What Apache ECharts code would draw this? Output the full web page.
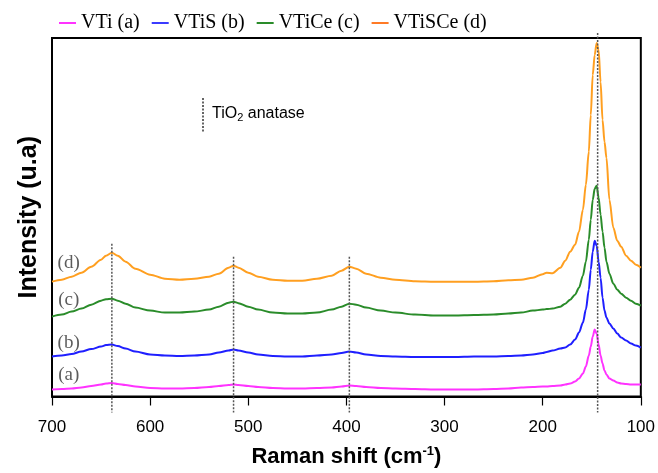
<!DOCTYPE html>
<html>
<head>
<meta charset="utf-8">
<script src="https://cdn.jsdelivr.net/npm/echarts@6/dist/echarts.min.js"></script>
<style>
  html, body { margin: 0; padding: 0; background: #fff; }
  #chart { width: 658px; height: 473px; }
</style>
</head>
<body>
<div id="chart"></div>
<script>
// Raman shift sampling points (cm-1)
const ramanShift = [700, 690, 680, 670, 660, 650, 645, 639, 633, 625, 615, 600, 585, 570, 555, 540, 530, 520, 515, 510,
  500, 490, 475, 460, 445, 430, 415, 405, 397, 390, 380, 365, 350, 330, 310, 290, 270, 250, 235, 222,
  210, 200, 196, 190, 182, 177, 172, 167, 163, 159, 156, 153, 151, 149, 147, 145, 143, 141, 139, 137,
  135, 132, 128, 124, 120, 115, 110, 105, 100];

// Intensities (arbitrary units, spectra stacked with offsets)
const intensityVTi = [7, 7.5, 8, 9, 10.5, 12, 13, 13.5, 12.5, 11.5, 10, 8.5, 8, 8, 8.5, 9.5, 10.5, 11.5, 12, 11.5,
  10.5, 9.5, 8.5, 8, 8, 8.5, 9, 10, 11, 10.5, 9.5, 8.5, 8, 7.5, 7, 7, 7, 7.5, 8, 9,
  9.5, 10, 10, 10.5, 11, 12, 13, 15, 18, 23, 30, 41, 50, 60, 67, 63, 52, 41, 33, 26,
  22, 18, 16, 14, 13, 12.5, 12, 12, 12];
const intensityVTiS = [40, 41, 42.5, 45, 47.5, 50, 51.5, 52, 50.5, 48, 45, 42, 41, 40.5, 41, 42, 44, 46, 47, 46,
  44, 42, 40.5, 40, 40, 41, 42, 43.5, 45, 44, 42, 40.5, 40, 39.5, 39.5, 39.5, 40, 40, 40.5, 41,
  42, 43.5, 44.5, 46, 48, 49, 52, 57, 64, 74, 87, 107, 127, 145, 156, 151, 135, 119, 99, 86,
  79, 73, 68, 63, 59, 56, 53, 51, 49];
const intensityVTiCe = [80, 82, 85, 88, 92, 96, 97.5, 98, 96, 93, 89, 86, 84, 84, 85, 87, 90, 94, 95, 93.5,
  90, 87, 84, 83, 83, 84, 87, 90, 93, 92, 89, 86, 84, 82, 81, 81, 81.5, 82, 83, 84,
  86, 87, 87.5, 88, 90, 93, 97, 102, 109, 121, 135, 157, 177, 197, 208, 211, 199, 182, 165, 149,
  135, 123, 113, 107, 103, 99, 96, 93, 91];
const intensityVTiSCe = [115, 117, 120, 124, 130, 137, 141, 144, 141, 135, 128, 122, 118, 117, 118, 120, 123, 129, 131, 129,
  124, 120, 117, 116, 116, 118, 121, 126, 130, 128, 123, 119, 117, 115.5, 115, 115, 115, 115.5, 116.5, 117,
  119, 122.5, 124, 123.5, 129, 136, 145, 152, 165, 187, 212, 245, 282, 322, 342, 354, 347, 315, 277, 255,
  239, 197, 169, 156, 150, 141, 136, 132, 129];

const seriesNames = ['VTi (a)', 'VTiS (b)', 'VTiCe (c)', 'VTiSCe (d)'];
const seriesTags = ['(a)', '(b)', '(c)', '(d)'];
const seriesColors = ['#ff33ff', '#1f1fff', '#2a8c2a', '#ff9f20'];
const legendColors = ['#ff33ff', '#3b3bff', '#2a8c2a', '#ff7a26'];
const seriesValues = [intensityVTi, intensityVTiS, intensityVTiCe, intensityVTiSCe];
// tag label positions: [shift, intensity]
const tagPositions = [[683, 22], [683, 54], [683, 97], [683, 134]];

// anatase reference bands and the height where each guide starts
const anataseBands = [639, 515, 397, 144];
const guideTops = [153, 140, 140, 364];

const xTicks = [700, 600, 500, 400, 300, 200, 100];

const chart = echarts.init(document.getElementById('chart'));

const lineSeries = seriesNames.map((name, k) => ({
  name: name,
  type: 'line',
  data: ramanShift.map((x, i) => [x, seriesValues[k][i]]),
  showSymbol: false,
  smooth: 0.3,
  smoothMonotone: 'x',
  lineStyle: { color: seriesColors[k], width: 2 },
  itemStyle: { color: seriesColors[k] },
  z: 3
}));

// sample tags (a)-(d) placed beside each spectrum
const tagSeries = {
  type: 'scatter',
  silent: true,
  symbol: 'circle',
  symbolSize: 1,
  itemStyle: { color: 'rgba(0,0,0,0)' },
  z: 5,
  data: tagPositions.map((p, k) => ({ value: p, name: seriesTags[k] })),
  label: {
    show: true,
    position: 'inside',
    formatter: p => p.name,
    fontFamily: 'Liberation Serif',
    fontSize: 19,
    color: '#333'
  }
};

const guideSeries = {
  type: 'custom',
  clip: false,
  silent: true,
  z: 4,
  data: anataseBands.map((b, i) => [b, guideTops[i]]),
  renderItem: function (params, api) {
    const top = api.coord([api.value(0), api.value(1)]);
    const base = api.coord([api.value(0), 0]);
    return {
      type: 'line',
      shape: { x1: top[0], y1: top[1], x2: base[0], y2: base[1] + 16 },
      style: { stroke: '#555', lineWidth: 1.5, lineDash: [2, 1.5] }
    };
  }
};

const option = {
  animation: false,
  backgroundColor: '#fff',
  grid: {
    left: 52, right: 17, top: 38, bottom: 76,
    show: true, borderColor: '#000', borderWidth: 2
  },
  legend: {
    left: 54, top: 8,
    itemWidth: 17, itemHeight: 2, itemGap: 12,
    icon: 'rect',
    textStyle: { fontFamily: 'Liberation Serif', fontSize: 20, color: '#000' },
    data: seriesNames.map((n, k) => ({ name: n, itemStyle: { color: legendColors[k] } }))
  },
  xAxis: {
    type: 'value',
    inverse: true,
    min: 100, max: 700, interval: 100,
    name: '{a|Raman shift (cm}{s|-1}{a|)}',
    nameLocation: 'middle',
    nameGap: 48,
    nameTextStyle: {
      rich: {
        a: { fontFamily: 'Liberation Sans', fontWeight: 'bold', fontSize: 22, color: '#000' },
        s: { fontFamily: 'Liberation Sans', fontWeight: 'bold', fontSize: 13, color: '#000', padding: [0, 0, 12, 0] }
      }
    },
    axisLine: { show: true, lineStyle: { color: '#000', width: 2 } },
    axisTick: { show: true, length: 9, lineStyle: { color: '#000', width: 1.2 } },
    axisLabel: {
      fontFamily: 'Liberation Sans', fontSize: 17, color: '#000', margin: 22,
      formatter: v => xTicks.includes(v) ? String(v) : ''
    },
    splitLine: { show: false }
  },
  yAxis: {
    type: 'value',
    min: 0, max: 359,
    name: 'Intensity (u.a)',
    nameLocation: 'middle',
    nameGap: 10,
    nameTextStyle: { fontFamily: 'Liberation Sans', fontWeight: 'bold', fontSize: 25, color: '#000' },
    axisLine: { show: false },
    axisTick: { show: false },
    axisLabel: { show: false },
    splitLine: { show: false }
  },
  graphic: [
    {
      type: 'line',
      shape: { x1: 203, y1: 98, x2: 203, y2: 133 },
      style: { stroke: '#333', lineWidth: 1.5, lineDash: [2, 1.5] }
    },
    {
      type: 'text',
      x: 212, y: 114,
      style: {
        text: '{n|TiO}{s|2}{n| anatase}',
        verticalAlign: 'middle',
        rich: {
          n: { fontFamily: 'Liberation Sans', fontSize: 16, fill: '#000' },
          s: { fontFamily: 'Liberation Sans', fontSize: 11, fill: '#000', padding: [8, 0, 0, 0] }
        }
      }
    }
  ],
  series: lineSeries.concat([tagSeries, guideSeries])
};

chart.setOption(option);
</script>
</body>
</html>
